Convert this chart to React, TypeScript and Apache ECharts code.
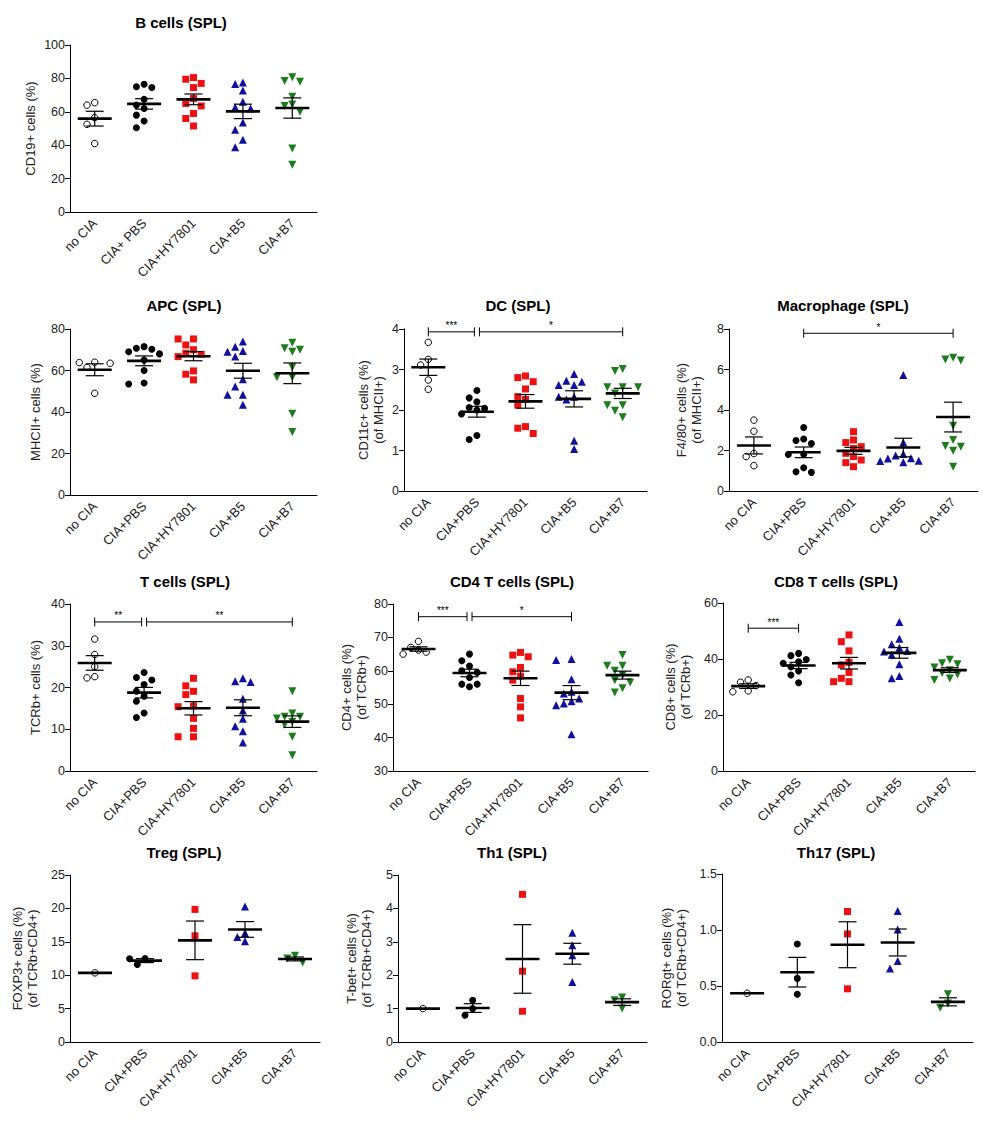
import React, { useEffect, useRef } from "react";
import * as echarts from "echarts";

const FONT = '"Liberation Sans", Arial, sans-serif';

const CATS = ["no CIA", "CIA+PBS", "CIA+HY7801", "CIA+B5", "CIA+B7"];
const CATS_B = ["no CIA", "CIA+ PBS", "CIA+HY7801", "CIA+B5", "CIA+B7"];

// ---- data (one inner array per group, in CATS order) ----
const bCells = [
  [65.5, 64, 56.5, 52.5, 41],
  [76.5, 75, 74.5, 67.5, 64, 62, 58, 54.5, 50.5],
  [80.5, 79.5, 77, 74.5, 68, 65, 63.5, 59, 56, 51.5],
  [77.5, 76.7, 72.7, 66, 62.7, 62, 53.6, 49.2, 43.2, 38.8],
  [80.7, 78.5, 78, 69, 64.3, 63.5, 60, 38, 28.3],
];
const apc = [
  [64, 63.8, 63.5, 61.5, 49],
  [71.5, 70.7, 70.2, 69, 68, 65, 60, 54, 53.5],
  [75.2, 75.2, 72.3, 70, 68.3, 67.8, 66.7, 59.8, 58.2, 55.5],
  [74, 71.5, 69.4, 69, 66.7, 55.8, 52.3, 48.3, 48.3, 43.5],
  [73.4, 70.7, 70, 69, 61.6, 56.8, 56.8, 39.2, 30.4],
];
const dc = [
  [3.67, 3.25, 3.11, 2.74, 2.51],
  [2.48, 2.3, 2.2, 2.06, 2.04, 2.0, 1.9, 1.37, 1.27],
  [2.84, 2.8, 2.7, 2.52, 2.33, 2.26, 2.12, 1.59, 1.55, 1.42],
  [2.89, 2.72, 2.7, 2.62, 2.62, 2.33, 2.33, 2.26, 1.24, 1.04],
  [3.01, 2.96, 2.56, 2.56, 2.56, 2.41, 2.12, 2.12, 1.98, 1.82],
];
const macrophage = [
  [3.5, 2.95, 1.85, 1.7, 1.25],
  [3.14, 2.57, 2.49, 2.35, 1.82, 1.8, 1.15, 0.95, 0.92],
  [2.93, 2.52, 2.39, 2.19, 2.1, 1.86, 1.7, 1.53, 1.4, 1.2],
  [5.73, 2.4, 1.83, 1.75, 1.62, 1.6, 1.5, 1.48, 1.42],
  [6.58, 6.5, 6.44, 3.22, 2.52, 2.22, 2.19, 1.99, 1.2],
];
const tCells = [
  [31.6, 27.9, 25, 22.6, 22.3],
  [23.6, 22.4, 21.8, 20.7, 19.1, 17.9, 16.7, 13.9, 12.8],
  [22.2, 20.4, 19.1, 18.3, 15.6, 15.4, 12.6, 10.2, 8.2, 8.2],
  [22.2, 21.5, 21.3, 17.3, 14.5, 12.5, 10.7, 9.5, 6.8],
  [19.1, 13.8, 13, 13, 12.6, 11.8, 11.1, 8.2, 3.8],
];
const cd4 = [
  [68.8, 67, 66.2, 65.6, 65],
  [65, 63, 61.4, 60, 59.5, 58, 56, 56, 55.2],
  [65.5, 64.7, 64.2, 61, 59.7, 58.4, 57.2, 51.7, 49.2, 45.9],
  [63.5, 63.2, 57.5, 53.7, 53.2, 51.7, 50.9, 50.2, 49.7, 41],
  [64.7, 61.5, 61.5, 60, 58.7, 57.2, 56.5, 54.8, 53.5],
];
const cd8 = [
  [32.5, 31.7, 30.5, 28.6, 28.3],
  [42, 41.2, 39.8, 39, 38.5, 37.2, 35.7, 34.3, 31.5],
  [48.6, 46.2, 42.9, 38.8, 37.9, 35.2, 33.1, 31.9, 31.9],
  [53.2, 47.2, 45.3, 44, 42.9, 42.7, 41.5, 38.1, 33.9, 33.1],
  [39.7, 38.5, 38.1, 37, 36, 35, 34.5, 33, 32.5],
];
const treg = [[10.35], [12.5, 12.45, 11.6], [19.85, 15.9, 9.9], [20.3, 16.3, 15.7, 15.1], [12.9, 12.5, 11.9]];
const th1 = [[1.0], [1.25, 1.0, 0.8], [4.42, 2.12, 0.92], [3.27, 2.9, 2.6, 1.8], [1.33, 1.25, 1.0]];
const th17 = [[0.435], [0.875, 0.568, 0.427], [1.165, 0.965, 0.475], [1.17, 1.004, 0.723, 0.657], [0.427, 0.344, 0.305]];

// y axis ranges: [min, max, interval]
const bCellsAxis = [0, 100, 20];
const apcAxis = [0, 80, 20];
const dcAxis = [0, 4, 1];
const macAxis = [0, 8, 2];
const tCellsAxis = [0, 40, 10];
const cd4Axis = [30, 80, 10];
const cd8Axis = [0, 60, 20];
const tregAxis = [0, 25, 5];
const th1Axis = [0, 5, 1];
const th17Axis = [0, 1.5, 0.5];

// significance brackets: [fromGroup, toGroup, yValue, label]
const dcSig: [number, number, number, string][] = [[0, 1, 3.93, "***"], [1, 4, 3.93, "*"]];
const macSig: [number, number, number, string][] = [[1, 4, 7.79, "*"]];
const tSig: [number, number, number, string][] = [[0, 1, 35.7, "**"], [1, 4, 35.7, "**"]];
const cd4Sig: [number, number, number, string][] = [[0, 1, 76.2, "***"], [1, 3, 76.2, "*"]];
const cd8Sig: [number, number, number, string][] = [[0, 1, 51, "***"]];

const panels = [
  { title: "B cells (SPL)", yName: "CD19+ cells (%)", cats: CATS_B, values: bCells, axis: bCellsAxis, sig: [] as any[], dec: 0 },
  { title: "APC (SPL)", yName: "MHCII+ cells (%)", cats: CATS, values: apc, axis: apcAxis, sig: [] as any[], dec: 0 },
  { title: "DC (SPL)", yName: "CD11c+ cells (%)\n(of MHCII+)", cats: CATS, values: dc, axis: dcAxis, sig: dcSig, dec: 0 },
  { title: "Macrophage (SPL)", yName: "F4/80+ cells (%)\n(of MHCII+)", cats: CATS, values: macrophage, axis: macAxis, sig: macSig, dec: 0 },
  { title: "T cells (SPL)", yName: "TCRb+ cells (%)", cats: CATS, values: tCells, axis: tCellsAxis, sig: tSig, dec: 0 },
  { title: "CD4 T cells (SPL)", yName: "CD4+ cells (%)\n(of TCRb+)", cats: CATS, values: cd4, axis: cd4Axis, sig: cd4Sig, dec: 0 },
  { title: "CD8 T cells (SPL)", yName: "CD8+ cells (%)\n(of TCRb+)", cats: CATS, values: cd8, axis: cd8Axis, sig: cd8Sig, dec: 0 },
  { title: "Treg (SPL)", yName: "FOXP3+ cells (%)\n(of TCRb+CD4+)", cats: CATS, values: treg, axis: tregAxis, sig: [] as any[], dec: 0 },
  { title: "Th1 (SPL)", yName: "T-bet+ cells (%)\n(of TCRb+CD4+)", cats: CATS, values: th1, axis: th1Axis, sig: [] as any[], dec: 0 },
  { title: "Th17 (SPL)", yName: "RORgt+ cells (%)\n(of TCRb+CD4+)", cats: CATS, values: th17, axis: th17Axis, sig: [] as any[], dec: 1 },
];

// layout of each panel (pixels)
const LAYOUT = [
  { left: 70, top: 45, width: 247, height: 167, tx: 181, ty: 22, gap: 32 },
  { left: 70, top: 329, width: 247, height: 166, tx: 184, ty: 305, gap: 27 },
  { left: 404, top: 329, width: 243, height: 162, tx: 518, ty: 305, gap: 18 },
  { left: 729, top: 329, width: 249, height: 162, tx: 843, ty: 305, gap: 25 },
  { left: 70, top: 604, width: 247, height: 167, tx: 185, ty: 581, gap: 27 },
  { left: 393, top: 604, width: 255, height: 167, tx: 512, ty: 581, gap: 24 },
  { left: 723, top: 603, width: 252, height: 168, tx: 836, ty: 581, gap: 30 },
  { left: 70, top: 875, width: 250, height: 167, tx: 184, ty: 852, gap: 30 },
  { left: 398, top: 875, width: 249, height: 167, tx: 512, ty: 852, gap: 24 },
  { left: 722, top: 874, width: 251, height: 168, tx: 836, ty: 852, gap: 33 },
];

const MARKERS = [
  { symbol: "circle", size: 6.5, rotate: 0, color: "#ffffff", border: "#000000", bw: 1 },
  { symbol: "circle", size: 7, rotate: 0, color: "#000000", border: "#000000", bw: 0 },
  { symbol: "rect", size: 7, rotate: 0, color: "#ee1111", border: "#ee1111", bw: 0 },
  { symbol: "triangle", size: 8, rotate: 0, color: "#10109c", border: "#10109c", bw: 0 },
  { symbol: "triangle", size: 8, rotate: 180, color: "#1d7d1d", border: "#1d7d1d", bw: 0 },
];

function swarm(vals: number[], pxPerUnit: number): number[] {
  const step = 7.7;
  const minDist = 7.8;
  const order = vals.map((_, i) => i).sort((a, b) => vals[b] - vals[a]);
  const placed: { x: number; y: number }[] = [];
  const offs = new Array(vals.length).fill(0);
  for (const i of order) {
    const y = vals[i] * pxPerUnit;
    for (let k = 0; k < 30; k++) {
      const cand = k === 0 ? 0 : (k % 2 === 1 ? -1 : 1) * Math.ceil(k / 2) * step;
      if (placed.every((p) => Math.hypot(p.x - cand, p.y - y) >= minDist)) {
        offs[i] = cand;
        placed.push({ x: cand, y });
        break;
      }
    }
  }
  return offs;
}

function meanSem(vals: number[]): [number, number] {
  const n = vals.length;
  const m = vals.reduce((a, b) => a + b, 0) / n;
  if (n < 2) return [m, 0];
  const v = vals.reduce((a, b) => a + (b - m) * (b - m), 0) / (n - 1);
  return [m, Math.sqrt(v / n)];
}

function buildOption() {
  const grid: any[] = [];
  const xAxis: any[] = [];
  const yAxis: any[] = [];
  const series: any[] = [];
  const graphic: any[] = [];

  panels.forEach((p, k) => {
    const L = LAYOUT[k];
    const [mn, mx, iv] = p.axis;
    grid.push({ left: L.left, top: L.top, width: L.width, height: L.height });
    xAxis.push({
      gridIndex: k,
      type: "category",
      data: p.cats,
      axisLine: { lineStyle: { color: "#000", width: 1 } },
      axisTick: { alignWithLabel: true, length: 5, lineStyle: { color: "#000" } },
      axisLabel: { rotate: 45, interval: 0, fontSize: 13, fontFamily: FONT, color: "#222", margin: 9 },
      splitLine: { show: false },
    });
    yAxis.push({
      gridIndex: k,
      type: "value",
      min: mn,
      max: mx,
      interval: iv,
      name: p.yName,
      nameLocation: "middle",
      nameRotate: 90,
      nameGap: L.gap,
      nameTextStyle: { fontSize: 13, fontFamily: FONT, color: "#222", lineHeight: 15 },
      axisLine: { show: true, lineStyle: { color: "#000", width: 1 } },
      axisTick: { show: true, length: 5, lineStyle: { color: "#000" } },
      axisLabel: {
        fontSize: 12.5,
        fontFamily: FONT,
        color: "#222",
        margin: 5,
        formatter: (v: number) => (p.dec ? v.toFixed(p.dec) : String(v)),
      },
      splitLine: { show: false },
    });
    const ppu = L.height / (mx - mn);
    p.values.forEach((vals, g) => {
      const mk = MARKERS[g];
      const offs = swarm(vals, ppu);
      series.push({
        type: "scatter",
        xAxisIndex: k,
        yAxisIndex: k,
        symbol: mk.symbol,
        symbolSize: mk.size,
        symbolRotate: mk.rotate,
        itemStyle: { color: mk.color, borderColor: mk.border, borderWidth: mk.bw, opacity: 1 },
        data: vals.map((v, i) => ({ value: [g, v], symbolOffset: [offs[i], 0] })),
        z: 2,
        silent: true,
      });
    });
    const stats = p.values.map((vals, g) => {
      const [m, s] = meanSem(vals);
      return [g, m, s];
    });
    series.push({
      type: "custom",
      xAxisIndex: k,
      yAxisIndex: k,
      z: 5,
      silent: true,
      clip: false,
      data: stats,
      renderItem: (params: any, api: any) => {
        const gi = api.value(0);
        const m = api.value(1);
        const s = api.value(2);
        const c = api.coord([gi, m]);
        const children: any[] = [
          { type: "line", shape: { x1: c[0] - 17, y1: c[1], x2: c[0] + 17, y2: c[1] }, style: { stroke: "#000", lineWidth: 2.6 } },
        ];
        if (s > 0) {
          const hi = api.coord([gi, m + s]);
          const lo = api.coord([gi, m - s]);
          children.push(
            { type: "line", shape: { x1: c[0], y1: hi[1], x2: c[0], y2: lo[1] }, style: { stroke: "#000", lineWidth: 1.2 } },
            { type: "line", shape: { x1: c[0] - 9, y1: hi[1], x2: c[0] + 9, y2: hi[1] }, style: { stroke: "#000", lineWidth: 1.2 } },
            { type: "line", shape: { x1: c[0] - 9, y1: lo[1], x2: c[0] + 9, y2: lo[1] }, style: { stroke: "#000", lineWidth: 1.2 } }
          );
        }
        return { type: "group", children };
      },
    });
    if (p.sig.length) {
      const sig = p.sig as [number, number, number, string][];
      const shared = (cat: number) => sig.filter((o) => o[0] === cat || o[1] === cat).length > 1;
      series.push({
        type: "custom",
        xAxisIndex: k,
        yAxisIndex: k,
        z: 6,
        silent: true,
        clip: false,
        data: sig.map((b) => [b[0], b[2], b[1]]),
        renderItem: (params: any, api: any) => {
          const b = sig[params.dataIndex];
          const a = api.coord([b[0], b[2]]);
          const e = api.coord([b[1], b[2]]);
          const x1 = a[0] + (shared(b[0]) ? 2.5 : 0);
          const x2 = e[0] - (shared(b[1]) ? 2.5 : 0);
          const y = a[1];
          return {
            type: "group",
            children: [
              { type: "line", shape: { x1, y1: y, x2, y2: y }, style: { stroke: "#000", lineWidth: 1 } },
              { type: "line", shape: { x1, y1: y - 4.5, x2: x1, y2: y + 4.5 }, style: { stroke: "#000", lineWidth: 1 } },
              { type: "line", shape: { x1: x2, y1: y - 4.5, x2, y2: y + 4.5 }, style: { stroke: "#000", lineWidth: 1 } },
              {
                type: "text",
                x: (x1 + x2) / 2,
                y: y - 1,
                style: { text: b[3], fill: "#000", fontSize: 10, fontFamily: FONT, align: "center", verticalAlign: "bottom" },
              },
            ],
          };
        },
      });
    }
    graphic.push({
      type: "text",
      x: L.tx,
      y: L.ty,
      style: {
        text: p.title,
        fill: "#000",
        font: `bold 15px ${FONT}`,
        align: "center",
        verticalAlign: "middle",
      },
    });
  });

  return { animation: false, backgroundColor: "#fff", grid, xAxis, yAxis, series, graphic };
}

export default function App() {
  const ref = useRef<HTMLDivElement>(null);
  useEffect(() => {
    const chart = echarts.init(ref.current!, null, { renderer: "svg" });
    chart.setOption(buildOption() as any);
    return () => chart.dispose();
  }, []);
  return (
    <div
      ref={ref}
      style={{ position: "absolute", left: 0, top: 0, width: 983, height: 1121, background: "#fff" }}
    />
  );
}
